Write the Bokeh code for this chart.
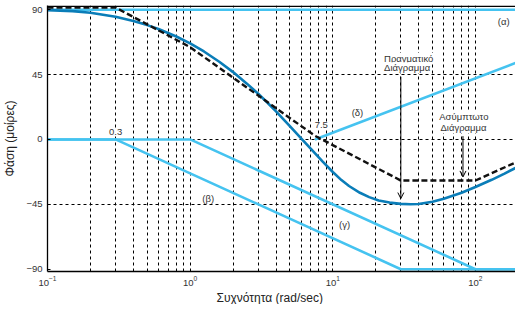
from bokeh.plotting import figure
from bokeh.models import FixedTicker, Span, Label, Arrow, OpenHead, Range1d, Title
from bokeh.embed import file_html
from bokeh.resources import INLINE

# ---- data ----
freq_alpha = [0.1, 191]
phase_alpha = [90, 90]

freq_beta = [0.1, 0.3, 30, 191]
phase_beta = [0, 0, -90, -90]

freq_gamma = [0.1, 1, 100, 191]
phase_gamma = [0, 0, -90, -90]

freq_delta = [7.5, 191]
phase_delta = [0, 53]

freq_asym = [0.1, 0.3, 1, 7.5, 30, 100, 191]
phase_asym = [91.5, 91.5, 64, 2.5, -28.5, -28.5, -16]

freq_real = [0.1, 0.15, 0.2, 0.3, 0.4, 0.5, 0.6, 0.8, 1.0, 1.25, 1.6, 2.0, 2.5,
             3.0, 3.5, 4.0, 5.0, 6.0, 7.0, 8.5, 10, 11.5, 13, 15.5, 18, 21,
             25, 30, 35, 40, 50, 60, 80, 100, 130, 160, 191]
phase_real = [89.7, 89.0, 87.9, 85.1, 82.1, 79.3, 76.6, 71.4, 66.6, 61.0, 53.9,
              46.7, 38.7, 31.7, 25.3, 19.5, 9.3, 0.8, -6.4, -15.4, -22.6, -28.2,
              -32.3, -37.0, -40.0, -42.3, -43.8, -44.7, -45.0, -44.8, -43.2,
              -41.2, -37.0, -33.0, -28.0, -23.7, -19.8]

x_ticks = [0.1, 1, 10, 100]
y_ticks = [-90, -45, 0, 45, 90]
y_grid = [-45, 0, 45]

FONT = "Liberation Sans"
LIGHT = "#45c3f0"
DARK = "#0a7db8"

p = figure(width=515, height=304, x_axis_type="log",
           x_range=Range1d(0.1, 191), y_range=Range1d(-91.6, 92.9),
           output_backend="svg", toolbar_location=None,
           min_border_left=0, min_border_right=0, min_border_top=5, min_border_bottom=0)
p.outline_line_color = None

minor = [m * 10.0 ** d for d in (-1, 0, 1, 2) for m in range(2, 10)]
p.xaxis.ticker = FixedTicker(ticks=x_ticks, minor_ticks=minor)
p.yaxis.ticker = FixedTicker(ticks=y_ticks)
p.ygrid.ticker = FixedTicker(ticks=y_grid)

for g in (p.xgrid, p.ygrid):
    g.grid_line_color = "black"
    g.grid_line_dash = "3 3"
    g.grid_line_width = 1
p.xgrid.minor_grid_line_color = "black"
p.xgrid.minor_grid_line_dash = "3 3"
p.xgrid.minor_grid_line_width = 1

for ax in (p.xaxis, p.yaxis):
    ax.axis_line_color = "black"
    ax.axis_line_width = 1.3
    ax.major_label_text_font = FONT
    ax.major_label_text_font_size = "9.5px"
    ax.major_label_text_color = "#333333"
    ax.axis_label_text_font = FONT
    ax.axis_label_text_font_style = "normal"
    ax.axis_label_text_font_size = "12px"
    ax.axis_label_text_color = "#222222"
    ax.minor_tick_line_color = None
    ax.minor_tick_in = 0
    ax.minor_tick_out = 0
p.xaxis.major_tick_line_color = None
p.xaxis.major_tick_in = 0
p.xaxis.major_tick_out = 0
p.xaxis.major_label_standoff = 4
p.yaxis.major_tick_in = 3
p.yaxis.major_tick_out = 0
p.yaxis.major_label_standoff = 5
p.yaxis.axis_label_standoff = 6
p.yaxis.axis_label = "Φάση (μοίρες)"

# x-axis title, placed below the tick labels
p.add_layout(Title(text="Συχνότητα (rad/sec)", align="left", offset=169, standoff=0,
                   text_font=FONT, text_font_size="12px", text_font_style="normal",
                   text_color="#222222"), "below")

p.add_layout(Span(location=92.4, dimension="width", line_color="black", line_width=1.5))

p.line(freq_alpha, phase_alpha, line_color=LIGHT, line_width=2.6)
p.line(freq_beta, phase_beta, line_color=LIGHT, line_width=2.6)
p.line(freq_gamma, phase_gamma, line_color=LIGHT, line_width=2.6)
p.line(freq_delta, phase_delta, line_color=LIGHT, line_width=2.6)
p.line(freq_real, phase_real, line_color=DARK, line_width=2.6)
p.line(freq_asym, phase_asym, line_color="#111111", line_width=2.4, line_dash="6 3")

def lab(x, y, t, align="center"):
    p.add_layout(Label(x=x, y=y, text=t, text_align=align, text_baseline="middle",
                       text_font=FONT, text_font_size="9.5px", text_color="#333333",
                       background_fill_color="white"))

lab(158, 81.5, "(α)")
lab(1.34, -41, "(β)")
lab(12.1, -58.8, "(γ)")
lab(14.9, 18.5, "(δ)")
lab(0.30, 5.5, "0.3")
lab(8.3, 9.8, "7.5")
lab(22.9, 56.2, "Πραγματικό", "left")
lab(22.9, 49.7, "Διάγραμμα", "left")
lab(55.8, 15.9, "Ασύμπτωτο", "left")
lab(56.9, 8.1, "Διάγραμμα", "left")

p.add_layout(Arrow(end=OpenHead(size=6, line_color="black", line_width=1),
                   x_start=30, y_start=43.5, x_end=30, y_end=-41,
                   line_color="black", line_width=1))
p.add_layout(Arrow(end=OpenHead(size=6, line_color="black", line_width=1),
                   x_start=81.8, y_start=2.3, x_end=81.8, y_end=-26,
                   line_color="black", line_width=1))

open("out.html", "w").write(file_html(p, INLINE))
